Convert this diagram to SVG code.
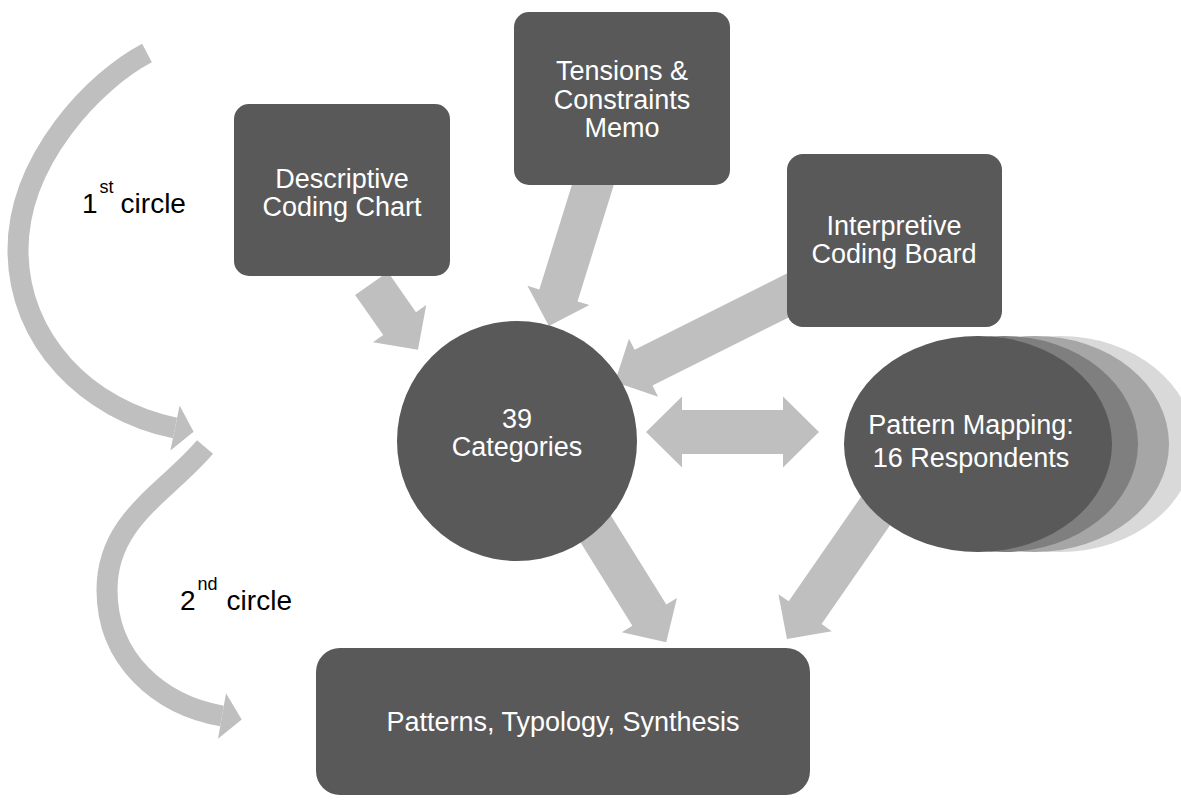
<svg xmlns="http://www.w3.org/2000/svg" width="1181" height="803" viewBox="0 0 1181 803">
  <defs>
    <style>
      .node { fill: #595959; }
      .conn { fill: #bfbfbf; }
      .arc { fill: none; stroke: #bfbfbf; stroke-width: 21; stroke-linecap: butt; }
      .label { font-family: "Liberation Sans", Arial, sans-serif; font-size: 27px; fill: #ffffff; text-anchor: middle; }
      .side { font-family: "Liberation Sans", Arial, sans-serif; font-size: 28px; fill: #000000; }
      .sup { font-size: 18px; }
    </style>
  </defs>
  <rect width="1181" height="803" fill="#ffffff"/>

  <!-- cycle arrows on the left -->
  <g id="cycles">
    <path class="arc" d="M147,53 C95,80 18,160 18,250 C18,340 87,410 175,428"/>
    <polygon class="conn" points="179.6,405.5 193.6,431.8 170.4,450.5"/>
    <path class="arc" d="M205,447 C166,493 107,520 107,590 C107,660 160,705 222,716"/>
    <polygon class="conn" points="226,693.3 241.7,719.4 218,738.7"/>
    <text class="side" x="82" y="213">1<tspan class="sup" dx="2" dy="-20">st</tspan><tspan dx="7" dy="20">circle</tspan></text>
    <text class="side" x="180" y="610">2<tspan class="sup" dx="2" dy="-20">nd</tspan><tspan dx="9" dy="20">circle</tspan></text>
  </g>

  <!-- block arrows between nodes -->
  <g id="connectors">
    <path class="conn" transform="translate(371.5,283.5) rotate(55)" d="M0,-20 H49 V-32.5 L81,0 L49,32.5 V20 H0 Z"/>
    <path class="conn" transform="translate(595,178) rotate(107.3)" d="M0,-20 H123 V-32.5 L155,0 L123,32.5 V20 H0 Z"/>
    <path class="conn" transform="translate(802.7,288) rotate(153.4)" d="M0,-20 H178 V-32.5 L210,0 L178,32.5 V20 H0 Z"/>
    <path class="conn" transform="translate(587,515) rotate(58.1)" d="M0,-20 H118 V-32.5 L150,0 L118,32.5 V20 H0 Z"/>
    <path class="conn" transform="translate(889.4,491) rotate(124.7)" d="M0,-20 H148 V-32.5 L180,0 L148,32.5 V20 H0 Z"/>
    <path class="conn" d="M646,432 L682,396.5 L682,410 L783,410 L783,396.5 L819,432 L783,467.5 L783,454 L682,454 L682,467.5 Z"/>
  </g>

  <g id="descriptive">
    <rect class="node" x="234" y="104" width="216" height="172" rx="15"/>
    <text class="label" x="342" y="188">Descriptive</text>
    <text class="label" x="342" y="216">Coding Chart</text>
  </g>

  <g id="tensions">
    <rect class="node" x="514" y="12" width="216" height="173" rx="15"/>
    <text class="label" x="622" y="80">Tensions &amp;</text>
    <text class="label" x="622" y="108.5">Constraints</text>
    <text class="label" x="622" y="137">Memo</text>
  </g>

  <g id="interpretive">
    <rect class="node" x="787" y="154" width="215" height="173" rx="16"/>
    <text class="label" x="894" y="235">Interpretive</text>
    <text class="label" x="894" y="263">Coding Board</text>
  </g>

  <g id="categories">
    <circle class="node" cx="517" cy="441" r="120"/>
    <text class="label" x="517" y="428">39</text>
    <text class="label" x="517" y="456">Categories</text>
  </g>

  <g id="pattern-mapping">
    <ellipse cx="1060" cy="444" rx="134" ry="108" fill="#d9d9d9"/>
    <ellipse cx="1035" cy="444" rx="134" ry="108" fill="#a6a6a6"/>
    <ellipse cx="1004" cy="444" rx="134" ry="108" fill="#7f7f7f"/>
    <ellipse class="node" cx="978" cy="444" rx="134" ry="108"/>
    <text class="label" x="971" y="434">Pattern Mapping:</text>
    <text class="label" x="971" y="467">16 Respondents</text>
  </g>

  <g id="synthesis">
    <rect class="node" x="316" y="648" width="494" height="147" rx="24"/>
    <text class="label" x="563" y="731">Patterns, Typology, Synthesis</text>
  </g>
</svg>
